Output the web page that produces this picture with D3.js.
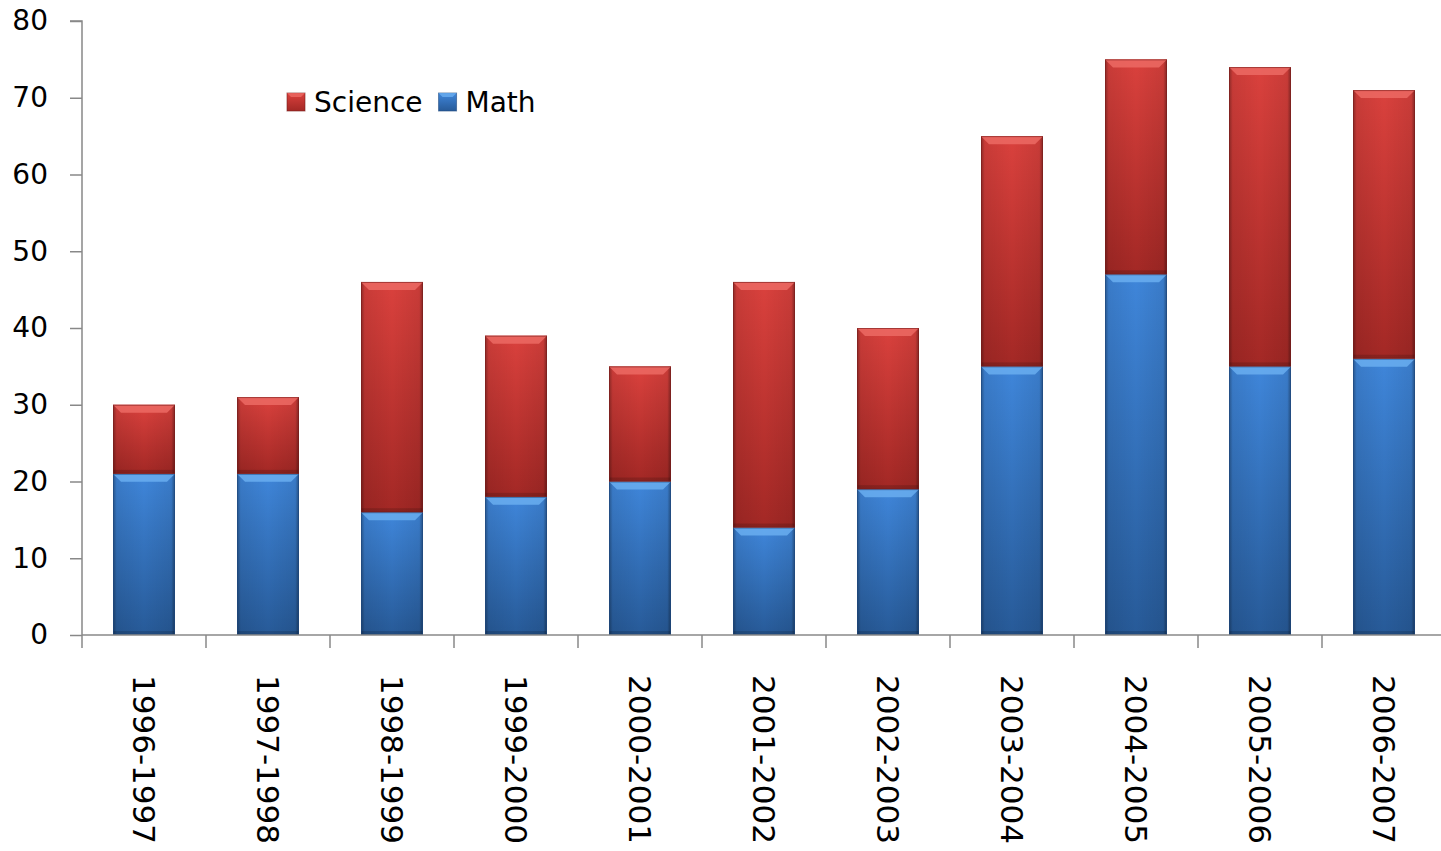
<!DOCTYPE html>
<html><head><meta charset="utf-8">
<script src="https://cdn.jsdelivr.net/npm/d3@7"></script>
<style>body{margin:0;background:#fff}svg{display:block}</style>
</head><body><svg id="c" width="1441" height="851"></svg>
<script>
const categories = ["1996-1997","1997-1998","1998-1999","1999-2000","2000-2001","2001-2002","2002-2003","2003-2004","2004-2005","2005-2006","2006-2007"];
const mathValues = [21,21,16,18,20,14,19,35,47,35,36];
const scienceValues = [9,10,30,21,15,32,21,30,28,39,35];
const yTicks = [0,10,20,30,40,50,60,70,80];
const seriesNames = ["Math","Science"];

const svg = d3.select("#c");
const font = "Tahoma, 'DejaVu Sans', Verdana, sans-serif";
const x0 = 82, x1 = 1446, yTop = 21, yBot = 635;
const x = d3.scaleBand().domain(categories).range([x0, x1]).paddingInner(0.5).paddingOuter(0.25);
const y = d3.scaleLinear().domain([0,80]).range([yBot, yTop]);

const defs = svg.append("defs");
function grads(id, light, mid, dark){
  const v = defs.append("linearGradient").attr("id", id+"V").attr("x1",0).attr("y1",0).attr("x2",0).attr("y2",1);
  v.append("stop").attr("offset","0%").attr("stop-color",light);
  v.append("stop").attr("offset","100%").attr("stop-color",dark);
  const h = defs.append("linearGradient").attr("id", id+"H").attr("x1",0).attr("y1",0).attr("x2",1).attr("y2",0);
  h.append("stop").attr("offset","0%").attr("stop-color","#000").attr("stop-opacity",0.35);
  h.append("stop").attr("offset","6%").attr("stop-color","#000").attr("stop-opacity",0.08);
  h.append("stop").attr("offset","50%").attr("stop-color","#000").attr("stop-opacity",0);
  h.append("stop").attr("offset","94%").attr("stop-color","#000").attr("stop-opacity",0.08);
  h.append("stop").attr("offset","100%").attr("stop-color","#000").attr("stop-opacity",0.4);
}
grads("red","#da413d","#cf3a36","#a32825");
grads("blue","#3f86da","#3a7bcb","#275a98");

const stackData = categories.map((c,i)=>({cat:c, Math:mathValues[i], Science:scienceValues[i]}));
const stack = d3.stack().keys(seriesNames)(stackData);
const colors = {Math:{g:"blue", top:"#6aaef0", edge:"#1f4a80"}, Science:{g:"red", top:"#ec6a64", edge:"#7a1e1c"}};

const bars = svg.append("g");
stack.forEach(s=>{
  const c = colors[s.key];
  s.forEach(d=>{
    const bx = x(d.data.cat), bw = x.bandwidth();
    const by = y(d[1]), bh = y(d[0]) - y(d[1]);
    const g = bars.append("g");
    g.append("rect").attr("x",bx).attr("y",by).attr("width",bw).attr("height",bh).attr("fill",`url(#${c.g}V)`);
    g.append("rect").attr("x",bx).attr("y",by).attr("width",bw).attr("height",bh).attr("fill",`url(#${c.g}H)`);
    const bev = 8;
    g.append("path").attr("d",`M${bx},${by}L${bx+bw},${by}L${bx+bw-bev},${by+bev}L${bx+bev},${by+bev}Z`).attr("fill",c.top).attr("opacity",0.85);
    g.append("rect").attr("x",bx).attr("y",by+bh-4).attr("width",bw).attr("height",4).attr("fill","#000").attr("opacity",0.15);
    g.append("rect").attr("x",bx+0.5).attr("y",by+0.5).attr("width",bw-1).attr("height",bh-1).attr("fill","none").attr("stroke",c.edge).attr("stroke-opacity",0.6);
  });
});

// Y axis
const yAxis = svg.append("g").attr("transform",`translate(${x0},0)`)
  .call(d3.axisLeft(y).tickValues(yTicks).tickSize(12).tickPadding(22));
yAxis.select(".domain").attr("stroke","#888").attr("stroke-width",1.5).attr("d",`M-12,${yTop}H0V${yBot}`);
yAxis.selectAll(".tick line").attr("stroke","#888").attr("stroke-width",1.5);
yAxis.selectAll("text").attr("font-family",font).attr("font-size",28).attr("fill","#000");

// X axis
const xa = svg.append("g").attr("transform",`translate(0,${yBot})`);
xa.append("line").attr("x1",x0).attr("x2",x1).attr("y1",0).attr("y2",0).attr("stroke","#888").attr("stroke-width",1.5);
const bounds = categories.map((c,i)=> x0 + i*(x1-x0)/categories.length);
xa.selectAll("line.t").data(bounds).join("line").attr("class","t")
  .attr("x1",d=>d).attr("x2",d=>d).attr("y1",0).attr("y2",13).attr("stroke","#888").attr("stroke-width",1.5);
xa.selectAll("text").data(categories).join("text")
  .attr("transform",d=>`translate(${x(d)+x.bandwidth()/2},40) rotate(90)`)
  .attr("dy","0.35em").attr("text-anchor","start")
  .attr("font-family",font).attr("font-size",31).attr("fill","#000").text(d=>d);

// Legend
const legend = [{name:"Science", c:colors.Science},{name:"Math", c:colors.Math}];
const lg = svg.append("g");
let lx = 287;
legend.forEach(l=>{
  const sw = lg.append("g");
  sw.append("rect").attr("x",lx).attr("y",93).attr("width",18).attr("height",18).attr("fill",`url(#${l.c.g}V)`).attr("stroke",l.c.edge).attr("stroke-opacity",0.6);
  sw.append("path").attr("d",`M${lx},${93}L${lx+18},93L${lx+14},97L${lx+4},97Z`).attr("fill",l.c.top).attr("opacity",0.8);
  const t = lg.append("text").attr("x",lx+27).attr("y",102).attr("dy","0.35em")
    .attr("font-family",font).attr("font-size",28).attr("fill","#000").text(l.name);
  lx = lx + 27 + t.node().getComputedTextLength() + 16;
});
</script></body></html>
